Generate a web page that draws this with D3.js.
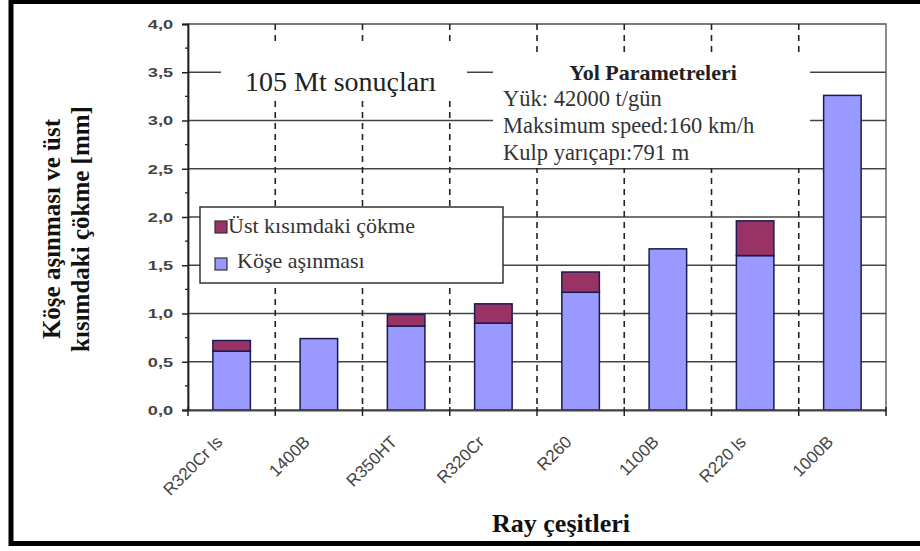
<!DOCTYPE html>
<html><head><meta charset="utf-8">
<script src="https://cdn.jsdelivr.net/npm/d3@7"></script>
<style>body{margin:0;background:#fff}svg{display:block}</style>
</head><body>
<svg id="c" width="920" height="551"></svg>
<script>
const categories = ["R320Cr ls","1400B","R350HT","R320Cr","R260","1100B","R220 ls","1000B"];
const koseAsinmasi = [0.61, 0.74, 0.87, 0.90, 1.22, 1.67, 1.60, 3.26];
const ustCokme     = [0.11, 0.00, 0.12, 0.20, 0.21, 0.00, 0.36, 0.00];
const yTicks = [0,0.5,1,1.5,2,2.5,3,3.5,4];
const seriesNames = ["Üst kısımdaki çökme","Köşe aşınması"];
const paramTitle = "Yol Parametreleri";
const paramLines = ["Yük: 42000 t/gün","Maksimum speed:160 km/h","Kulp yarıçapı:791 m"];

const svg = d3.select("#c");
const L=188,R=886,T=24,B=410;
const x = d3.scaleBand().domain(categories).range([L,R]).paddingInner(0).paddingOuter(0);
const y = d3.scaleLinear().domain([0,4]).range([B,T]);
const blue="#9999ff", maroon="#993366", serif="'Liberation Serif','Times New Roman',serif", sans="'Liberation Sans',Arial,sans-serif";

// frame
svg.append("rect").attr("x",11).attr("y",1.5).attr("width",940).attr("height",542).attr("fill","none").attr("stroke","#000").attr("stroke-width",5);

// plot border
svg.append("rect").attr("x",L).attr("y",T).attr("width",R-L).attr("height",B-T).attr("fill","#fff").attr("stroke","#666").attr("stroke-width",1.5);

// horizontal gridlines
svg.append("g").selectAll("line").data(yTicks.slice(1)).join("line")
  .attr("x1",L).attr("x2",R).attr("y1",d=>y(d)).attr("y2",d=>y(d))
  .attr("stroke",d=>d===4?"#777":"#444").attr("stroke-width",1.5);

// vertical dashed separators
svg.append("g").selectAll("line").data(categories.slice(1)).join("line")
  .attr("x1",d=>x(d)).attr("x2",d=>x(d)).attr("y1",T).attr("y2",B)
  .attr("stroke","#222").attr("stroke-width",1.6).attr("stroke-dasharray","6,5");

// white text boxes
svg.append("rect").attr("x",221).attr("y",42).attr("width",246).attr("height",55).attr("fill","#fff");
svg.append("rect").attr("x",493).attr("y",57).attr("width",317).attr("height",111).attr("fill","#fff");

// bars
const bw = x.bandwidth()*0.43;
const g = svg.append("g");
g.selectAll("rect.k").data(categories).join("rect").attr("class","k")
  .attr("x",d=>x(d)+x.bandwidth()/2-bw/2).attr("width",bw)
  .attr("y",(d,i)=>y(koseAsinmasi[i])).attr("height",(d,i)=>y(0)-y(koseAsinmasi[i]))
  .attr("fill",blue).attr("stroke","#1a1a50").attr("stroke-width",1.5);
g.selectAll("rect.u").data(categories.filter((d,i)=>ustCokme[i]>0)).join("rect").attr("class","u")
  .attr("x",d=>x(d)+x.bandwidth()/2-bw/2).attr("width",bw)
  .attr("y",d=>{const i=categories.indexOf(d);return y(koseAsinmasi[i]+ustCokme[i]);})
  .attr("height",d=>{const i=categories.indexOf(d);return y(koseAsinmasi[i])-y(koseAsinmasi[i]+ustCokme[i]);})
  .attr("fill",maroon).attr("stroke","#1a1a50").attr("stroke-width",1.5);

// y axis
const ya = svg.append("g").attr("transform",`translate(${L},0)`)
  .call(d3.axisLeft(y).tickValues(yTicks).tickSize(6).tickPadding(5).tickFormat(d=>d3.format(".1f")(d).replace(".",",")));
ya.select(".domain").attr("stroke","#222").attr("stroke-width",1.8);
ya.selectAll(".tick line").attr("stroke","#222").attr("stroke-width",1.5);
ya.selectAll("text").attr("font-family",sans).attr("font-size",13.5).attr("font-weight","bold").attr("fill","#444")
  .attr("transform","scale(1.35,1)");
// minor ticks
svg.append("g").selectAll("line").data(d3.range(0.25,4,0.5)).join("line")
  .attr("x1",L-3).attr("x2",L).attr("y1",d=>y(d)).attr("y2",d=>y(d)).attr("stroke","#222").attr("stroke-width",1.3);

// x axis
const xa = svg.append("g").attr("transform",`translate(0,${B})`)
  .call(d3.axisBottom(x).tickSize(0).tickFormat(""));
xa.select(".domain").attr("stroke","#444").attr("stroke-width",2);
svg.append("g").selectAll("line").data(categories.concat(["end"])).join("line")
  .attr("x1",(d,i)=>i<categories.length?x(d):R).attr("x2",(d,i)=>i<categories.length?x(d):R)
  .attr("y1",B-3).attr("y2",B+6).attr("stroke","#222").attr("stroke-width",1.5);
svg.append("g").selectAll("text").data(categories).join("text")
  .attr("transform",d=>`translate(${x(d)+x.bandwidth()/2-8},${B+33}) rotate(-45)`)
  .attr("text-anchor","end").attr("font-family",sans).attr("font-size",17).attr("fill","#444")
  .text(d=>d);

// titles
svg.append("text").attr("x",561).attr("y",532).attr("text-anchor","middle")
  .attr("font-family",serif).attr("font-weight","bold").attr("font-size",26).attr("fill","#111").text("Ray çeşitleri");
const yt = svg.append("text").attr("transform","translate(60,229) rotate(-90)").attr("text-anchor","middle")
  .attr("font-family",serif).attr("font-weight","bold").attr("font-size",25).attr("fill","#111");
yt.append("tspan").attr("x",0).attr("y",0).text("Köşe aşınması ve üst");
yt.append("tspan").attr("x",0).attr("y",29).text("kısımdaki çökme [mm]");

// annotation text
svg.append("text").attr("x",245).attr("y",91).attr("font-family",serif).attr("font-size",28).attr("fill","#222").text("105 Mt sonuçları");
svg.append("text").attr("x",653).attr("y",80).attr("text-anchor","middle").attr("font-family",serif).attr("font-weight","bold").attr("font-size",22).attr("fill","#222").text(paramTitle);
svg.append("g").selectAll("text").data(paramLines).join("text")
  .attr("x",503).attr("y",(d,i)=>106+i*27).attr("font-family",serif).attr("font-size",22.5).attr("fill","#333").text(d=>d);

// legend
const lg = svg.append("g");
lg.append("rect").attr("x",200).attr("y",207).attr("width",303).attr("height",76).attr("fill","#fff").attr("stroke","#333").attr("stroke-width",1.5);
const legendColors=[maroon,blue];
lg.selectAll("rect.s").data(seriesNames).join("rect").attr("class","s")
  .attr("x",215).attr("y",(d,i)=>221+i*37).attr("width",12).attr("height",12)
  .attr("fill",(d,i)=>legendColors[i]).attr("stroke","#333").attr("stroke-width",1.2);
lg.selectAll("text").data(seriesNames).join("text")
  .attr("x",(d,i)=>i===0?228:237).attr("y",(d,i)=>233+i*35)
  .attr("font-family",serif).attr("font-size",22).attr("fill","#333").text(d=>d);
</script>
</body></html>
